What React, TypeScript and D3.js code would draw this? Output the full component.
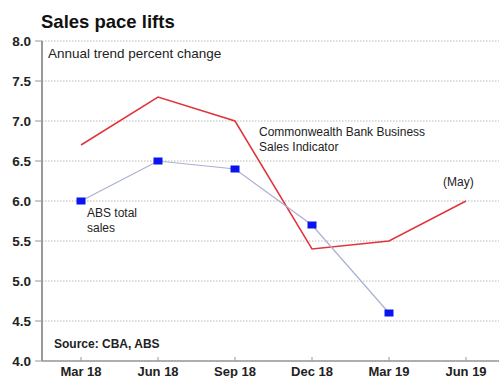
import React from "react";
import * as d3 from "d3";

const categories = ["Mar 18", "Jun 18", "Sep 18", "Dec 18", "Mar 19", "Jun 19"];
const cbaValues = [6.7, 7.3, 7.0, 5.4, 5.5, 6.0];
const absValues = [6.0, 6.5, 6.4, 5.7, 4.6];
const yTicks = [4.0, 4.5, 5.0, 5.5, 6.0, 6.5, 7.0, 7.5, 8.0];

const W = 499, H = 378;
const left = 42, top = 41, bottom = 361;

export default function App() {
  const x = d3.scalePoint<string>().domain(categories).range([81, 466]);
  const y = d3.scaleLinear().domain([4, 8]).range([bottom, top]);
  const line = d3.line<[string, number]>().x(d => x(d[0])!).y(d => y(d[1]));
  const cbaPts: [string, number][] = cbaValues.map((v, i) => [categories[i], v]);
  const absPts: [string, number][] = absValues.map((v, i) => [categories[i], v]);
  const font = "'Liberation Sans', Arial, sans-serif";
  return (
    <svg width={W} height={H} style={{ position: "absolute", left: 0, top: 0, background: "#fff" }} fontFamily={font}>
      <text x={41} y={28} fontSize={18.5} fontWeight="bold" fill="#111">Sales pace lifts</text>
      {yTicks.map(t => (
        <g key={t}>
          <line x1={left} x2={W} y1={y(t)} y2={y(t)} stroke="#bbb" strokeDasharray="1.5,1.5" strokeWidth={1} />
          <line x1={35} x2={left} y1={y(t)} y2={y(t)} stroke="#999" strokeWidth={1} />
          <text x={31} y={y(t) + 5} textAnchor="end" fontSize={13.5} fontWeight="bold" fill="#222">{t.toFixed(1)}</text>
        </g>
      ))}
      <line x1={left} x2={left} y1={top} y2={bottom} stroke="#999" strokeWidth={2} />
      <line x1={left} x2={W} y1={bottom} y2={bottom} stroke="#999" strokeWidth={1.5} />
      {categories.map(c => (
        <g key={c}>
          <line x1={x(c)!} x2={x(c)!} y1={bottom} y2={bottom - 4} stroke="#999" strokeWidth={1} />
          <text x={x(c)!} y={376} textAnchor="middle" fontSize={13} fontWeight="bold" fill="#222">{c}</text>
        </g>
      ))}
      <path d={line(cbaPts)!} fill="none" stroke="#e0353a" strokeWidth={1.5} />
      <path d={line(absPts)!} fill="none" stroke="#a9b0cf" strokeWidth={1.2} />
      {absPts.map(d => (
        <rect key={d[0]} x={x(d[0])! - 4.5} y={y(d[1]) - 3.5} width={9} height={7} fill="#0a14f0" />
      ))}
      <text x={48} y={58} fontSize={13.5} fill="#222">Annual trend percent change</text>
      <text x={259} y={136} fontSize={12} fill="#222">Commonwealth Bank Business</text>
      <text x={259} y={151} fontSize={12} fill="#222">Sales Indicator</text>
      <text x={443} y={186} fontSize={12} fill="#222">(May)</text>
      <text x={87} y={217} fontSize={12} fill="#222">ABS total</text>
      <text x={87} y={232} fontSize={12} fill="#222">sales</text>
      <text x={54} y={348} fontSize={12} fontWeight="bold" fill="#222">Source: CBA, ABS</text>
    </svg>
  );
}
